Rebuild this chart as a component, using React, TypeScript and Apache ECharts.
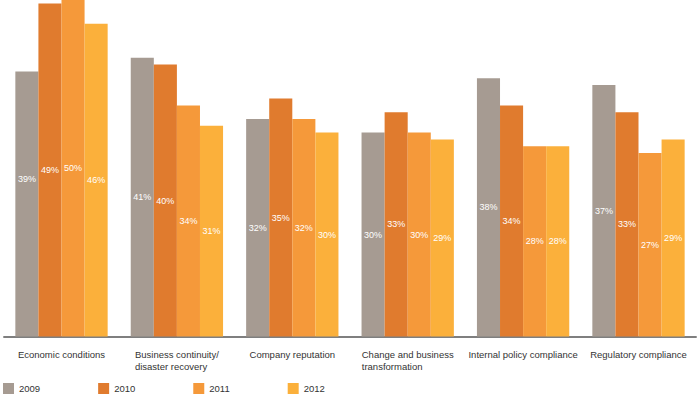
import React, { useEffect, useRef } from "react";
import * as echarts from "echarts";

const categories = [
  "Economic conditions",
  "Business continuity/\ndisaster recovery",
  "Company reputation",
  "Change and business\ntransformation",
  "Internal policy compliance",
  "Regulatory compliance",
];
const seriesNames = ["2009", "2010", "2011", "2012"];
const v2009 = [39, 41, 32, 30, 38, 37];
const v2010 = [49, 40, 35, 33, 34, 33];
const v2011 = [50, 34, 32, 30, 28, 27];
const v2012 = [46, 31, 30, 29, 28, 29];
const colors = ["#a69b92", "#e07b2e", "#f5993a", "#fbb03b"];

export default function App() {
  const ref = useRef<HTMLDivElement>(null);
  useEffect(() => {
    if (!ref.current) return;
    const chart = echarts.init(ref.current, undefined, { renderer: "svg" });
    const all = [v2009, v2010, v2011, v2012];
    const font = "Liberation Sans, Arial, Helvetica, sans-serif";
    chart.setOption({
      animation: false,
      color: colors,
      grid: { left: 3.8, right: 3.8, top: 0, height: 336.6 },
      legend: {
        left: 3,
        top: 383,
        padding: 0,
        itemWidth: 11,
        itemHeight: 11,
        itemGap: 58,
        icon: "rect",
        data: seriesNames,
        textStyle: { fontSize: 9.5, color: "#333", fontFamily: font },
      },
      xAxis: {
        type: "category",
        data: categories,
        offset: 2.5,
        axisTick: { show: false },
        axisLine: { lineStyle: { color: "#555", width: 1.5 } },
        axisLabel: {
          margin: 9,
          interval: 0,
          formatter: (v: string) =>
            v
              .split("\n")
              .map((l) => `{a|${l}}`)
              .join("\n"),
          rich: {
            a: {
              align: "left",
              fontSize: 9.5,
              lineHeight: 12,
              color: "#333",
              fontFamily: font,
            },
          },
        },
      },
      yAxis: {
        type: "value",
        min: 0,
        max: 49.5,
        show: false,
        splitLine: { show: false },
      },
      series: all.map((vals, si) => ({
        type: "bar",
        name: seriesNames[si],
        barGap: "0%",
        barCategoryGap: "20%",
        data: vals.map((v, i) =>
          si === 0 && i === 0
            ? { value: v, label: { offset: [0, -25] } }
            : v
        ),
        label: {
          show: true,
          position: "inside",
          formatter: "{c}%",
          color: "#fff",
          fontSize: 9,
          fontFamily: font,
        },
      })),
    });
    return () => chart.dispose();
  }, []);
  return (
    <div
      ref={ref}
      style={{ position: "absolute", left: 0, top: 0, width: 700, height: 394 }}
    />
  );
}
